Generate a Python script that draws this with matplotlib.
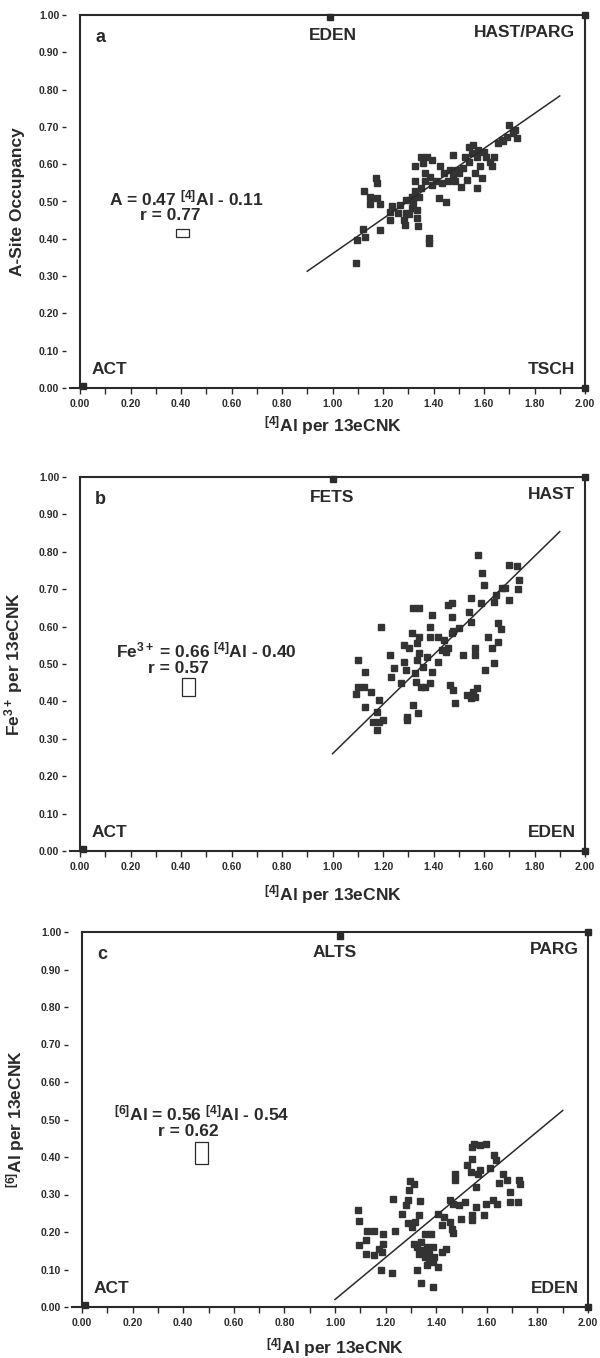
import numpy as np
import matplotlib
matplotlib.use("Agg")
import matplotlib.pyplot as plt
from matplotlib.patches import Rectangle
from matplotlib.ticker import MultipleLocator, FormatStrFormatter

plt.rcParams['font.family'] = ['Liberation Sans', 'DejaVu Sans']
plt.rcParams['mathtext.fontset'] = 'custom'
plt.rcParams['mathtext.rm'] = 'Liberation Sans:bold'
plt.rcParams['mathtext.bf'] = 'Liberation Sans:bold'
plt.rcParams['mathtext.it'] = 'Liberation Sans:bold'
plt.rcParams['mathtext.default'] = 'bf'

# ---------------- data ----------------
# panel a : A-site occupancy vs [4]Al
a_x = [1.093, 1.096, 1.13, 1.12, 1.19, 1.123, 1.15, 1.15, 1.19, 1.176, 1.173, 1.176,
       1.226, 1.229, 1.237, 1.267, 1.283, 1.287, 1.302, 1.313, 1.335, 1.338, 1.29, 1.313,
       1.328, 1.32, 1.335, 1.381, 1.384, 1.328, 1.328, 1.35, 1.358, 1.373, 1.366, 1.396,
       1.388, 1.411, 1.426, 1.441, 1.423, 1.449, 1.457, 1.464, 1.479, 1.487, 1.494, 1.502,
       1.517, 1.533, 1.54, 1.54, 1.551, 1.555, 1.571, 1.571, 1.586, 1.593, 1.578, 1.608,
       1.624, 1.63, 1.639, 1.654, 1.677, 1.692, 1.70, 1.723, 1.73, 1.715, 1.67, 1.366,
       1.35, 1.343, 1.51, 1.525, 1.29, 1.305, 1.26, 1.396, 1.434, 1.479, 1.563, 1.60]
a_y = [0.335, 0.397, 0.404, 0.426, 0.424, 0.529, 0.511, 0.494, 0.494, 0.51, 0.5625, 0.549,
       0.451, 0.473, 0.487, 0.491, 0.451, 0.4375, 0.467, 0.482, 0.455, 0.433, 0.504, 0.513,
       0.527, 0.496, 0.478, 0.402, 0.388, 0.554, 0.594, 0.62, 0.603, 0.62, 0.554, 0.545,
       0.567, 0.554, 0.594, 0.576, 0.509, 0.50, 0.554, 0.585, 0.625, 0.554, 0.585, 0.576,
       0.589, 0.558, 0.607, 0.647, 0.629, 0.652, 0.62, 0.536, 0.594, 0.5625, 0.638, 0.62,
       0.607, 0.594, 0.62, 0.656, 0.661, 0.674, 0.705, 0.692, 0.67, 0.683, 0.665, 0.576,
       0.536, 0.513, 0.54, 0.62, 0.469, 0.504, 0.469, 0.612, 0.549, 0.567, 0.576, 0.634]

# panel b : Fe3+ vs [4]Al
b_x = [1.10, 1.13, 1.10, 1.093, 1.123, 1.153, 1.13, 1.191, 1.184, 1.176, 1.161, 1.184,
       1.176, 1.199, 1.229, 1.232, 1.244, 1.271, 1.283, 1.29, 1.283, 1.302, 1.313, 1.32,
       1.343, 1.317, 1.296, 1.296, 1.34, 1.328, 1.335, 1.343, 1.335, 1.343, 1.332, 1.35,
       1.366, 1.358, 1.373, 1.388, 1.393, 1.388, 1.393, 1.388, 1.419, 1.419, 1.434, 1.441,
       1.449, 1.457, 1.457, 1.472, 1.472, 1.472, 1.479, 1.464, 1.479, 1.484, 1.502, 1.517,
       1.54, 1.548, 1.548, 1.563, 1.563, 1.533, 1.548, 1.555, 1.563, 1.571, 1.575, 1.593,
       1.601, 1.59, 1.605, 1.616, 1.63, 1.639, 1.639, 1.647, 1.654, 1.654, 1.666, 1.684,
       1.70, 1.70, 1.73, 1.737, 1.733, 1.672]
b_y = [0.511, 0.479, 0.439, 0.421, 0.439, 0.426, 0.386, 0.60, 0.404, 0.372, 0.346, 0.346,
       0.323, 0.35, 0.524, 0.466, 0.488, 0.45, 0.506, 0.484, 0.551, 0.542, 0.582, 0.649,
       0.649, 0.39, 0.359, 0.35, 0.368, 0.475, 0.511, 0.529, 0.555, 0.573, 0.453, 0.439,
       0.439, 0.493, 0.52, 0.448, 0.479, 0.60, 0.631, 0.573, 0.573, 0.506, 0.537, 0.564,
       0.533, 0.542, 0.658, 0.662, 0.627, 0.582, 0.587, 0.444, 0.43, 0.395, 0.596, 0.524,
       0.64, 0.676, 0.613, 0.542, 0.524, 0.417, 0.408, 0.426, 0.413, 0.435, 0.792, 0.743,
       0.712, 0.664, 0.484, 0.573, 0.542, 0.502, 0.667, 0.685, 0.609, 0.56, 0.593, 0.703,
       0.671, 0.765, 0.761, 0.725, 0.70, 0.703]

# panel c : [6]Al vs [4]Al
c_x = [1.089, 1.093, 1.093, 1.124, 1.127, 1.153, 1.124, 1.153, 1.173, 1.191, 1.191, 1.184,
       1.18, 1.224, 1.236, 1.229, 1.266, 1.281, 1.288, 1.288, 1.296, 1.311, 1.293, 1.303,
       1.318, 1.333, 1.337, 1.311, 1.326, 1.333, 1.341, 1.348, 1.356, 1.363, 1.371, 1.386,
       1.386, 1.378, 1.393, 1.326, 1.338, 1.386, 1.408, 1.423, 1.356, 1.408, 1.423, 1.431,
       1.453, 1.461, 1.468, 1.453, 1.468, 1.476, 1.476, 1.491, 1.498, 1.513, 1.521, 1.536,
       1.543, 1.543, 1.551, 1.573, 1.596, 1.543, 1.543, 1.558, 1.566, 1.558, 1.573, 1.588,
       1.596, 1.611, 1.63, 1.638, 1.626, 1.641, 1.648, 1.663, 1.678, 1.693, 1.693, 1.723,
       1.727, 1.73, 1.438, 1.371, 1.363]
c_y = [0.258, 0.229, 0.165, 0.18, 0.202, 0.202, 0.142, 0.14, 0.156, 0.169, 0.196, 0.147,
       0.098, 0.091, 0.203, 0.288, 0.249, 0.272, 0.285, 0.223, 0.336, 0.329, 0.312, 0.214,
       0.227, 0.245, 0.283, 0.169, 0.16, 0.142, 0.174, 0.151, 0.134, 0.16, 0.125, 0.12,
       0.16, 0.196, 0.134, 0.098, 0.064, 0.053, 0.107, 0.147, 0.196, 0.249, 0.218, 0.24,
       0.227, 0.209, 0.198, 0.285, 0.276, 0.338, 0.356, 0.272, 0.236, 0.28, 0.378, 0.361,
       0.396, 0.427, 0.436, 0.432, 0.434, 0.245, 0.232, 0.267, 0.356, 0.321, 0.365, 0.245,
       0.276, 0.37, 0.405, 0.392, 0.285, 0.276, 0.331, 0.356, 0.338, 0.307, 0.28, 0.28,
       0.338, 0.329, 0.156, 0.142, 0.111]

# end-member compositions plotted on the frame
end_a_x = [0.01, 0.99, 2.0, 2.0]
end_a_y = [0.005, 0.995, 1.0, 0.0]
end_b_x = [0.01, 1.0, 2.0, 2.0]
end_b_y = [0.005, 0.995, 1.0, 0.0]
end_c_x = [0.01, 1.02, 2.0, 2.0]
end_c_y = [0.005, 0.99, 1.0, 0.0]

# regression lines (slope, intercept, x-range)
fit_slope = [0.47, 0.66, 0.56]
fit_icpt = [-0.11, -0.40, -0.54]
fit_range = [(0.9, 1.9), (1.0, 1.9), (1.0, 1.9)]

# corner labels
corner_labels = [
    ("EDEN", "HAST/PARG", "ACT", "TSCH"),
    ("FETS", "HAST", "ACT", "EDEN"),
    ("ALTS", "PARG", "ACT", "EDEN"),
]
panel_letters = ["a", "b", "c"]
eq_text = [r"A = 0.47 $^{[4]}$Al - 0.11",
           r"Fe$^{3+}$ = 0.66 $^{[4]}$Al - 0.40",
           r"$^{[6]}$Al = 0.56 $^{[4]}$Al - 0.54"]
r_text = ["r = 0.77", "r = 0.57", "r = 0.62"]
y_labels = ["A-Site Occupancy", r"Fe$^{3+}$ per 13eCNK", r"$^{[6]}$Al per 13eCNK"]
x_label = r"$^{[4]}$Al per 13eCNK"

# ---------------- figure ----------------
fig = plt.figure(figsize=(6.0, 13.58), dpi=100)
W, H = 600.0, 1358.0
# axes boxes in pixels: left, right, top, bottom
boxes = [(80, 585, 15, 388), (80, 585, 477, 851), (82, 588, 932, 1307)]

xs = [a_x, b_x, c_x]
ys = [a_y, b_y, c_y]
exs = [end_a_x, end_b_x, end_c_x]
eys = [end_a_y, end_b_y, end_c_y]
eq_pos = [(0.42, 0.509), (0.50, 0.5375), (0.474, 0.516)]
r_pos = [(0.359, 0.462), (0.39, 0.488), (0.421, 0.469)]
err_boxes = [(0.379, 0.404, 0.053, 0.022), (0.402, 0.414, 0.053, 0.049), (0.446, 0.381, 0.051, 0.060)]
xlabel_y = [-0.07, -0.085, -0.077]

ink = '#2a2a2a'
for i in range(3):
    l, r, t, b = boxes[i]
    ax = fig.add_axes([l / W, 1 - b / H, (r - l) / W, (b - t) / H])
    ax.set_xlim(0, 2.0)
    ax.set_ylim(0, 1.0)

    ax.plot(exs[i], eys[i], 's', color=ink, ms=3.8, clip_on=False, zorder=5)
    ax.plot(xs[i], ys[i], 's', color='#333333', ms=3.9, mec='#333333', zorder=3)
    x0, x1 = fit_range[i]
    fx = np.array([x0, x1])
    ax.plot(fx, fit_slope[i] * fx + fit_icpt[i], '-', color=ink, lw=1.1, zorder=4)

    ex, ey, ew, eh = err_boxes[i]
    ax.add_patch(Rectangle((ex, ey), ew, eh, fill=False, ec=ink, lw=0.9))

    # frame
    for s in ['top', 'right', 'bottom']:
        ax.spines[s].set_linewidth(1.5)
        ax.spines[s].set_color(ink)
    ax.spines['left'].set_position(('outward', 10))
    ax.spines['left'].set_visible(False)
    ax.plot([0, 0], [0, 1], color=ink, lw=1.5, transform=ax.transAxes, clip_on=False)
    ax.plot([-0.02, 0], [0, 0], color=ink, lw=1.5, transform=ax.transAxes, clip_on=False)

    ax.xaxis.set_major_locator(MultipleLocator(0.2))
    ax.xaxis.set_minor_locator(MultipleLocator(0.1))
    ax.yaxis.set_major_locator(MultipleLocator(0.1))
    ax.xaxis.set_major_formatter(FormatStrFormatter('%.2f'))
    ax.yaxis.set_major_formatter(FormatStrFormatter('%.2f'))
    ax.tick_params(axis='x', which='both', direction='out', length=4, width=1.0,
                   color=ink, labelsize=7.5, pad=4, labelcolor=ink)
    ax.tick_params(axis='y', which='both', direction='out', length=3, width=1.0,
                   color=ink, labelsize=7.5, pad=2, labelcolor=ink)
    for lab in ax.get_xticklabels() + ax.get_yticklabels():
        lab.set_fontweight('bold')

    ax.set_xlabel(x_label, fontsize=12.5, fontweight='bold', color=ink)
    ax.xaxis.set_label_coords(0.5, xlabel_y[i])
    ax.set_ylabel(y_labels[i], fontsize=12.5, fontweight='bold', color=ink)
    ax.yaxis.set_label_coords(-0.108, 0.5)

    top_mid, top_right, bot_left, bot_right = corner_labels[i]
    tkw = dict(fontsize=12.5, fontweight='bold', color=ink)
    ax.text(1.0, 0.946, top_mid, ha='center', va='center', **tkw)
    ax.text(1.962, 0.952, top_right, ha='right', va='center', **tkw)
    ax.text(0.045, 0.05, bot_left, ha='left', va='center', **tkw)
    ax.text(1.962, 0.05, bot_right, ha='right', va='center', **tkw)
    ax.text(0.06, 0.94, panel_letters[i], ha='left', va='center', fontsize=13,
            fontweight='bold', color=ink)

    ax.text(eq_pos[i][0], eq_pos[i][1], eq_text[i], ha='center', va='center', **tkw)
    ax.text(r_pos[i][0], r_pos[i][1], r_text[i], ha='center', va='center', **tkw)

fig.savefig('out.png', dpi=100, facecolor='white')
